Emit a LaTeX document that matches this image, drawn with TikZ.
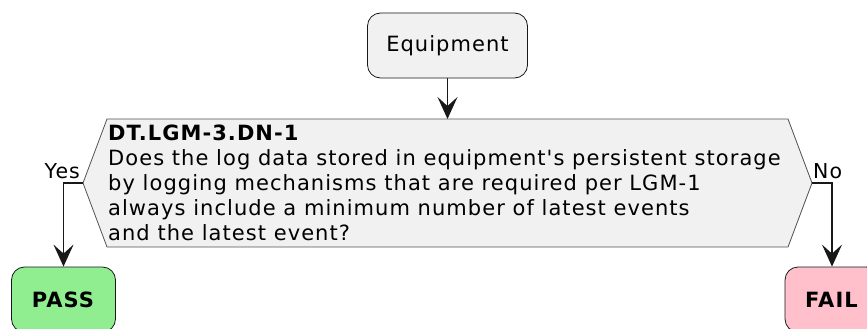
\documentclass[tikz,border=0pt]{standalone}
\usepackage{fontspec}
\setmainfont{DejaVu Sans}[LetterSpace=5, Ligatures=TeXOff]
\usetikzlibrary{arrows.meta}
\definecolor{boxfill}{HTML}{F1F1F1}
\definecolor{boxline}{HTML}{181818}
\definecolor{passfill}{HTML}{90EE90}
\definecolor{failfill}{HTML}{FFC0CB}
\tikzset{
  x=1pt, y=-1pt,
  every node/.style={font=\fontsize{21}{25}\selectfont, inner sep=0pt},
  roundbox/.style={draw=boxline, line width=0.8pt, rounded corners=13pt, minimum height=65pt},
  flow/.style={draw=boxline, line width=1.8pt, -{Stealth[length=22pt, width=20pt, inset=9pt]}},
  lbl/.style={font=\fontsize{20.5}{25}\selectfont}
}
\begin{document}
\begin{tikzpicture}
\useasboundingbox (0,0) rectangle (867,329);

% start activity
\node[roundbox, fill=boxfill, minimum width=160pt] (eq) at (447.5,45.5) {Equipment};

% decision hexagon
\coordinate (qL) at (83,183);
\coordinate (qR) at (812,183);
\draw[draw=boxline!75, line width=0.8pt, fill=boxfill]
  (qL) -- (107,119) -- (788,119) -- (qR) -- (788,247) -- (107,247) -- cycle;
\coordinate (qT) at (447.5,119);
\node[anchor=north west, align=left] (q) at (108,124.5)
  {\textbf{DT.LGM-3.DN-1}\\
   Does the log data stored in equipment's persistent storage\\
   by logging mechanisms that are required per LGM-1\\
   always include a minimum number of latest events\\
   and the latest event?};

% outcomes
\node[roundbox, fill=passfill, minimum width=104pt] (pass) at (63.5,299.5) {\textbf{PASS}};
\node[roundbox, fill=failfill, minimum width=94pt] (fail) at (832,299.5) {\textbf{FAIL}};

% connectors
\draw[flow] (eq.south) -- (qT);
\draw[flow] (qL) -| (pass.north);
\draw[flow] (qR) -| (fail.north);

% branch labels
\node[lbl, anchor=base east] (yes) at (80,178) {Yes};
\node[lbl, anchor=base west] (no) at (813,178) {No};
\end{tikzpicture}
\end{document}
